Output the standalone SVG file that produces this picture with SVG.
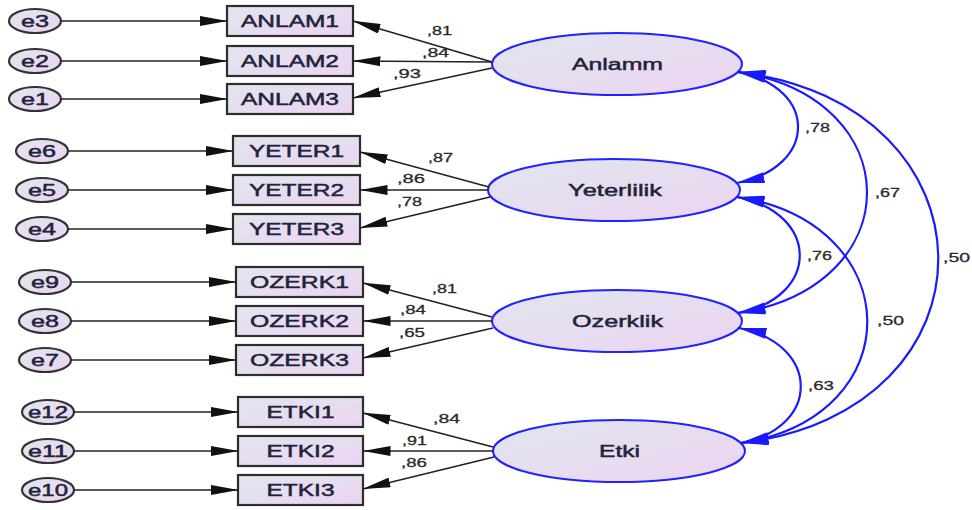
<svg xmlns="http://www.w3.org/2000/svg" width="972" height="510" viewBox="0 0 972 510">
  <defs>
    <linearGradient id="fillGrad" x1="0" y1="0" x2="1" y2="1">
      <stop offset="0" stop-color="#e1e6ef"/>
      <stop offset="1" stop-color="#ecd4f1"/>
    </linearGradient>
    <marker id="arrowBlack" markerUnits="userSpaceOnUse" viewBox="0 0 28 10" markerWidth="28" markerHeight="10" refX="27.5" refY="5" orient="auto-start-reverse">
      <path d="M0,0 L28,5 L0,10 Z" fill="#111"/>
    </marker>
    <marker id="arrowBlue" markerUnits="userSpaceOnUse" viewBox="0 0 28 11" markerWidth="28" markerHeight="11" refX="27.5" refY="5.5" orient="auto-start-reverse">
      <path d="M0,0 L28,5.5 L0,11 Z" fill="#1a1aff"/>
    </marker>
    <style>
      .err { fill: url(#fillGrad); stroke: #333; stroke-width: 2.2; }
      .obs { fill: url(#fillGrad); stroke: #2e2e2e; stroke-width: 2.2; }
      .lat { fill: url(#fillGrad); stroke: #2222ff; stroke-width: 2; }
      .lbl { font-family: "Liberation Sans", Arial, sans-serif; font-size: 16px; fill: #22223a; stroke: #22223a; stroke-width: 0.45; }
      .num { font-family: "Liberation Sans", Arial, sans-serif; font-size: 13px; fill: #2a2a2a; stroke: #2a2a2a; stroke-width: 0.3; }
      .path { fill: none; stroke: #222; stroke-width: 1.7; marker-end: url(#arrowBlack); }
      .cov { fill: none; stroke: #1a1aff; stroke-width: 2.2; marker-start: url(#arrowBlue); marker-end: url(#arrowBlue); }
    </style>
  </defs>

  <rect width="972" height="510" fill="#ffffff"/>

  <!-- error terms -->
  <g id="e3"><ellipse class="err" cx="35" cy="21" rx="26" ry="12"/><text class="lbl" x="21" y="27" textLength="28" lengthAdjust="spacingAndGlyphs">e3</text></g>
  <g id="e2"><ellipse class="err" cx="35" cy="61" rx="26" ry="12"/><text class="lbl" x="21" y="67" textLength="28" lengthAdjust="spacingAndGlyphs">e2</text></g>
  <g id="e1"><ellipse class="err" cx="35" cy="99" rx="26" ry="12"/><text class="lbl" x="21" y="105" textLength="28" lengthAdjust="spacingAndGlyphs">e1</text></g>
  <g id="e6"><ellipse class="err" cx="42" cy="151" rx="26" ry="12"/><text class="lbl" x="28" y="157" textLength="28" lengthAdjust="spacingAndGlyphs">e6</text></g>
  <g id="e5"><ellipse class="err" cx="42" cy="190" rx="26" ry="12"/><text class="lbl" x="28" y="196" textLength="28" lengthAdjust="spacingAndGlyphs">e5</text></g>
  <g id="e4"><ellipse class="err" cx="42" cy="229" rx="26" ry="12"/><text class="lbl" x="28" y="235" textLength="28" lengthAdjust="spacingAndGlyphs">e4</text></g>
  <g id="e9"><ellipse class="err" cx="45" cy="282" rx="26" ry="12"/><text class="lbl" x="31" y="288" textLength="28" lengthAdjust="spacingAndGlyphs">e9</text></g>
  <g id="e8"><ellipse class="err" cx="45" cy="321" rx="26" ry="12"/><text class="lbl" x="31" y="327" textLength="28" lengthAdjust="spacingAndGlyphs">e8</text></g>
  <g id="e7"><ellipse class="err" cx="45" cy="360" rx="26" ry="12"/><text class="lbl" x="31" y="366" textLength="28" lengthAdjust="spacingAndGlyphs">e7</text></g>
  <g id="e12"><ellipse class="err" cx="48" cy="412" rx="26" ry="12"/><text class="lbl" x="28" y="418" textLength="40" lengthAdjust="spacingAndGlyphs">e12</text></g>
  <g id="e11"><ellipse class="err" cx="48" cy="451" rx="26" ry="12"/><text class="lbl" x="28" y="457" textLength="40" lengthAdjust="spacingAndGlyphs">e11</text></g>
  <g id="e10"><ellipse class="err" cx="48" cy="490" rx="26" ry="12"/><text class="lbl" x="28" y="496" textLength="40" lengthAdjust="spacingAndGlyphs">e10</text></g>

  <!-- observed indicators -->
  <g id="ANLAM1"><rect class="obs" x="227" y="6" width="126" height="30"/><text class="lbl" x="241" y="27" textLength="98" lengthAdjust="spacingAndGlyphs">ANLAM1</text></g>
  <g id="ANLAM2"><rect class="obs" x="227" y="46" width="126" height="30"/><text class="lbl" x="241" y="67" textLength="98" lengthAdjust="spacingAndGlyphs">ANLAM2</text></g>
  <g id="ANLAM3"><rect class="obs" x="227" y="84" width="126" height="30"/><text class="lbl" x="241" y="105" textLength="98" lengthAdjust="spacingAndGlyphs">ANLAM3</text></g>
  <g id="YETER1"><rect class="obs" x="233" y="136" width="127" height="30"/><text class="lbl" x="249" y="157" textLength="95" lengthAdjust="spacingAndGlyphs">YETER1</text></g>
  <g id="YETER2"><rect class="obs" x="233" y="175" width="127" height="30"/><text class="lbl" x="249" y="196" textLength="95" lengthAdjust="spacingAndGlyphs">YETER2</text></g>
  <g id="YETER3"><rect class="obs" x="233" y="214" width="127" height="30"/><text class="lbl" x="249" y="235" textLength="95" lengthAdjust="spacingAndGlyphs">YETER3</text></g>
  <g id="OZERK1"><rect class="obs" x="236" y="267" width="127" height="30"/><text class="lbl" x="250" y="288" textLength="99" lengthAdjust="spacingAndGlyphs">OZERK1</text></g>
  <g id="OZERK2"><rect class="obs" x="236" y="306" width="127" height="30"/><text class="lbl" x="250" y="327" textLength="99" lengthAdjust="spacingAndGlyphs">OZERK2</text></g>
  <g id="OZERK3"><rect class="obs" x="236" y="345" width="127" height="30"/><text class="lbl" x="250" y="366" textLength="99" lengthAdjust="spacingAndGlyphs">OZERK3</text></g>
  <g id="ETKI1"><rect class="obs" x="238" y="397" width="125" height="30"/><text class="lbl" x="266.5" y="418" textLength="68" lengthAdjust="spacingAndGlyphs">ETKI1</text></g>
  <g id="ETKI2"><rect class="obs" x="238" y="436" width="125" height="30"/><text class="lbl" x="266.5" y="457" textLength="68" lengthAdjust="spacingAndGlyphs">ETKI2</text></g>
  <g id="ETKI3"><rect class="obs" x="238" y="475" width="125" height="30"/><text class="lbl" x="266.5" y="496" textLength="68" lengthAdjust="spacingAndGlyphs">ETKI3</text></g>

  <!-- latent factors -->
  <g id="Anlamm"><ellipse class="lat" cx="617" cy="64" rx="125" ry="31"/><text class="lbl" x="572" y="70" textLength="91" lengthAdjust="spacingAndGlyphs">Anlamm</text></g>
  <g id="Yeterlilik"><ellipse class="lat" cx="614" cy="190" rx="126" ry="31"/><text class="lbl" x="568" y="196" textLength="94" lengthAdjust="spacingAndGlyphs">Yeterlilik</text></g>
  <g id="Ozerklik"><ellipse class="lat" cx="617" cy="321" rx="125" ry="31"/><text class="lbl" x="572" y="327" textLength="91" lengthAdjust="spacingAndGlyphs">Ozerklik</text></g>
  <g id="Etki"><ellipse class="lat" cx="619" cy="451" rx="126" ry="31"/><text class="lbl" x="599" y="457" textLength="41" lengthAdjust="spacingAndGlyphs">Etki</text></g>

  <!-- connectors -->
  <g id="connectors">
    <!-- error -> indicator -->
    <line class="path" x1="61" y1="21" x2="227" y2="21"/>
    <line class="path" x1="61" y1="61" x2="227" y2="61"/>
    <line class="path" x1="61" y1="99" x2="227" y2="99"/>
    <line class="path" x1="68" y1="151" x2="233" y2="151"/>
    <line class="path" x1="68" y1="190" x2="233" y2="190"/>
    <line class="path" x1="68" y1="229" x2="233" y2="229"/>
    <line class="path" x1="71" y1="282" x2="236" y2="282"/>
    <line class="path" x1="71" y1="321" x2="236" y2="321"/>
    <line class="path" x1="71" y1="360" x2="236" y2="360"/>
    <line class="path" x1="74" y1="412" x2="238" y2="412"/>
    <line class="path" x1="74" y1="451" x2="238" y2="451"/>
    <line class="path" x1="74" y1="490" x2="238" y2="490"/>

    <!-- factor loadings -->
    <line class="path" x1="492" y1="62" x2="353" y2="21"/>
    <line class="path" x1="492" y1="62" x2="353" y2="61"/>
    <line class="path" x1="492" y1="68" x2="353" y2="98"/>
    <line class="path" x1="489" y1="187" x2="360" y2="152"/>
    <line class="path" x1="489" y1="190" x2="360" y2="190"/>
    <line class="path" x1="490" y1="197" x2="360" y2="228"/>
    <line class="path" x1="492" y1="317" x2="363" y2="283"/>
    <line class="path" x1="492" y1="321" x2="363" y2="321"/>
    <line class="path" x1="493" y1="328" x2="363" y2="358"/>
    <line class="path" x1="493" y1="447" x2="363" y2="413"/>
    <line class="path" x1="493" y1="451" x2="363" y2="451"/>
    <line class="path" x1="494" y1="457" x2="363" y2="489"/>

    <!-- factor covariances -->
    <path class="cov" d="M738,72 C818.7,88 817.7,167 737,183"/>
    <path class="cov" d="M738,72 C910,98 910,287 738,313"/>
    <path class="cov" d="M738,72 C1003,104 1006,411 741,443"/>
    <path class="cov" d="M737,197 C820,213 821,297 738,313"/>
    <path class="cov" d="M737,197 C908,223 912,417 741,443"/>
    <path class="cov" d="M739,328 C820,344 822,427 741,443"/>
  </g>

  <!-- coefficient labels -->
  <g id="estimates">
    <text class="num" x="427" y="35" textLength="25" lengthAdjust="spacingAndGlyphs">,81</text>
    <text class="num" x="422" y="57" textLength="27" lengthAdjust="spacingAndGlyphs">,84</text>
    <text class="num" x="393" y="78" textLength="28" lengthAdjust="spacingAndGlyphs">,93</text>
    <text class="num" x="428" y="162" textLength="25" lengthAdjust="spacingAndGlyphs">,87</text>
    <text class="num" x="397" y="183" textLength="28" lengthAdjust="spacingAndGlyphs">,86</text>
    <text class="num" x="397" y="206" textLength="25" lengthAdjust="spacingAndGlyphs">,78</text>
    <text class="num" x="432" y="293" textLength="25" lengthAdjust="spacingAndGlyphs">,81</text>
    <text class="num" x="400" y="314" textLength="26" lengthAdjust="spacingAndGlyphs">,84</text>
    <text class="num" x="399" y="337" textLength="26" lengthAdjust="spacingAndGlyphs">,65</text>
    <text class="num" x="433" y="423" textLength="27" lengthAdjust="spacingAndGlyphs">,84</text>
    <text class="num" x="402" y="445" textLength="25" lengthAdjust="spacingAndGlyphs">,91</text>
    <text class="num" x="401" y="467" textLength="26" lengthAdjust="spacingAndGlyphs">,86</text>
    <text class="num" x="805" y="132" textLength="25" lengthAdjust="spacingAndGlyphs">,78</text>
    <text class="num" x="875" y="197" textLength="25" lengthAdjust="spacingAndGlyphs">,67</text>
    <text class="num" x="943" y="262" textLength="27" lengthAdjust="spacingAndGlyphs">,50</text>
    <text class="num" x="807" y="260" textLength="25" lengthAdjust="spacingAndGlyphs">,76</text>
    <text class="num" x="877" y="325" textLength="27" lengthAdjust="spacingAndGlyphs">,50</text>
    <text class="num" x="808" y="390" textLength="26" lengthAdjust="spacingAndGlyphs">,63</text>
  </g>
</svg>
